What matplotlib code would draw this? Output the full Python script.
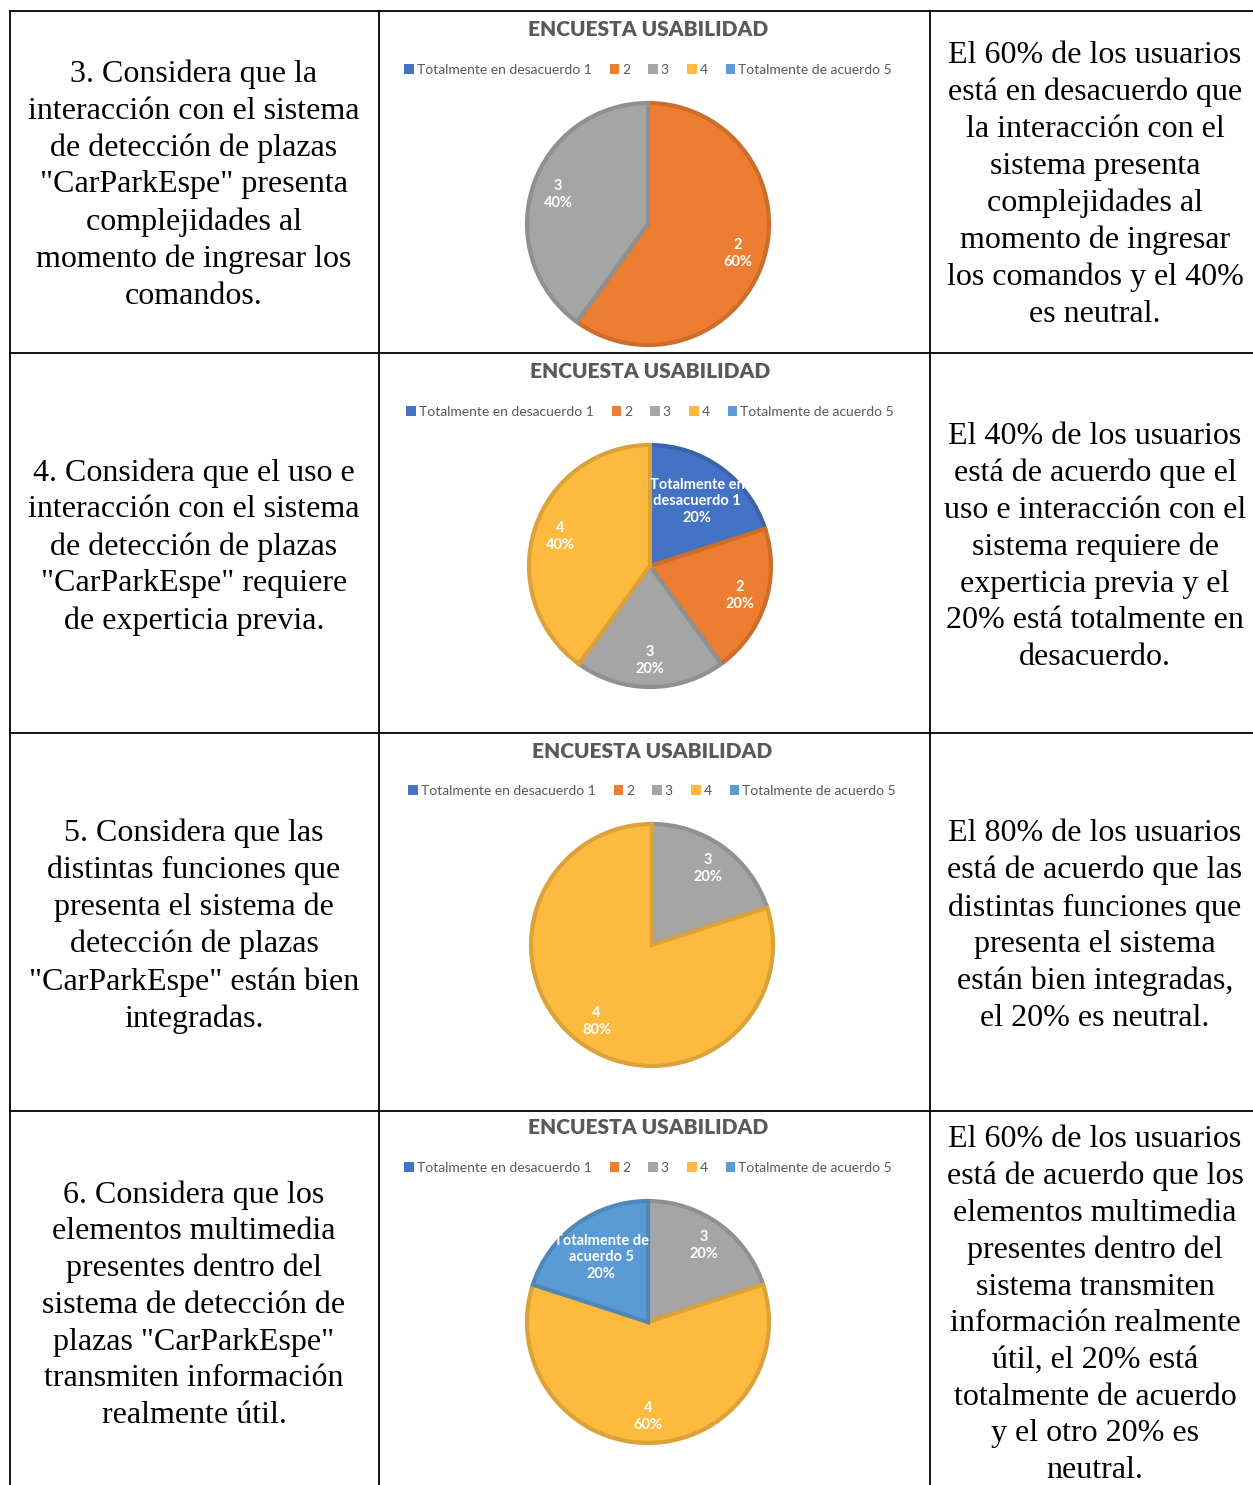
import matplotlib.pyplot as plt
from matplotlib.patches import Patch
from matplotlib.lines import Line2D
import matplotlib.colors as mcolors
import numpy as np

W, H = 1253, 1485
DPI = 100

categorias = ["Totalmente en desacuerdo 1", "2", "3", "4", "Totalmente de acuerdo 5"]
etiquetas_pie = ["Totalmente en\ndesacuerdo 1", "2", "3", "4", "Totalmente de\nacuerdo 5"]
colores = ["#4472C4", "#ED7D31", "#A5A5A5", "#FDBA3F", "#5B9BD5"]

# porcentajes de cada respuesta (1..5) por pregunta
p3 = [0, 60, 40, 0, 0]
p4 = [20, 20, 20, 40, 0]
p5 = [0, 0, 20, 80, 0]
p6 = [0, 0, 20, 60, 20]
porcentajes = [p3, p4, p5, p6]

titulo = "ENCUESTA USABILIDAD"

preguntas = [
    "3. Considera que la\ninteracción con el sistema\nde detección de plazas\n\"CarParkEspe\" presenta\ncomplejidades al\nmomento de ingresar los\ncomandos.",
    "4. Considera que el uso e\ninteracción con el sistema\nde detección de plazas\n\"CarParkEspe\" requiere\nde experticia previa.",
    "5. Considera que las\ndistintas funciones que\npresenta el sistema de\ndetección de plazas\n\"CarParkEspe\" están bien\nintegradas.",
    "6. Considera que los\nelementos multimedia\npresentes dentro del\nsistema de detección de\nplazas \"CarParkEspe\"\ntransmiten información\nrealmente útil.",
]

conclusiones = [
    "El 60% de los usuarios\nestá en desacuerdo que\nla interacción con el\nsistema presenta\ncomplejidades al\nmomento de ingresar\nlos comandos y el 40%\nes neutral.",
    "El 40% de los usuarios\nestá de acuerdo que el\nuso e interacción con el\nsistema requiere de\nexperticia previa y el\n20% está totalmente en\ndesacuerdo.",
    "El 80% de los usuarios\nestá de acuerdo que las\ndistintas funciones que\npresenta el sistema\nestán bien integradas,\nel 20% es neutral.",
    "El 60% de los usuarios\nestá de acuerdo que los\nelementos multimedia\npresentes dentro del\nsistema transmiten\ninformación realmente\nútil, el 20% está\ntotalmente de acuerdo\ny el otro 20% es\nneutral.",
]

# layout en pixeles (desde arriba)
row_lines = [11, 353, 733, 1111]
col_lines = [10, 379, 930]
text_y = [185, 547, 926, 1305]
title_y = [30, 372, 751, 1128]
cx_list = [648, 650, 652, 648]
R = 121


def fx(x):
    return x / W


def fy(y):
    return 1 - y / H


def darker(c, f=0.87):
    r, g, b = mcolors.to_rgb(c)
    return (r * f, g * f, b * f)


fig = plt.figure(figsize=(W / DPI, H / DPI), dpi=DPI)

# tabla
for y in row_lines:
    fig.add_artist(Line2D([fx(10), 1], [fy(y), fy(y)], transform=fig.transFigure, color="k", lw=1.3))
for x in col_lines:
    fig.add_artist(Line2D([fx(x), fx(x)], [fy(11), 0], transform=fig.transFigure, color="k", lw=1.3))

serif = dict(family="Liberation Serif", size=23, linespacing=1.345)
for i in range(4):
    fig.text(fx(194), fy(text_y[i]), preguntas[i], ha="center", va="center", **serif)
    fig.text(fx(1095), fy(text_y[i]), conclusiones[i], ha="center", va="center", **serif)

handles = [Patch(facecolor=c, edgecolor="none") for c in colores]

for i in range(4):
    cx = cx_list[i]
    ty = title_y[i]
    cy = ty + 194
    s = 1.1 * R
    ax = fig.add_axes([fx(cx - s), fy(cy + s), 2 * s / W, 2 * s / H])

    vals = [v for v in porcentajes[i] if v > 0]
    cols = [c for v, c in zip(porcentajes[i], colores) if v > 0]
    labs = [l for v, l in zip(porcentajes[i], etiquetas_pie) if v > 0]
    wedges, _ = ax.pie(vals, colors=cols, startangle=90, counterclock=False, radius=1,
                       wedgeprops=dict(linewidth=3))
    ax.set_xlim(-1.1, 1.1)
    ax.set_ylim(-1.1, 1.1)
    ax.axis("off")
    for w, c, lab, v in zip(wedges, cols, labs, vals):
        w.set_edgecolor(darker(c))
        ang = np.deg2rad((w.theta1 + w.theta2) / 2)
        d = 0.66 if len(lab) > 2 else 0.78
        ax.text(d * np.cos(ang), d * np.sin(ang), f"{lab}\n{v}%", ha="center", va="center",
                color="white", fontsize=10.5, fontweight="bold", family="Lato", linespacing=1.25)

    fig.text(fx(cx), fy(ty), titulo, ha="center", va="center", family="Lato",
             fontweight="heavy", fontsize=15, color="#595959")
    ax.legend(handles, categorias, loc="center", bbox_to_anchor=(fx(cx), fy(ty + 40)),
              bbox_transform=fig.transFigure, ncol=5, frameon=False, handlelength=0.7,
              handleheight=0.7, handletextpad=0.2, columnspacing=1.3,
              prop=dict(family="Lato", size=10), labelcolor="#595959")

fig.savefig("out.png", dpi=DPI)
